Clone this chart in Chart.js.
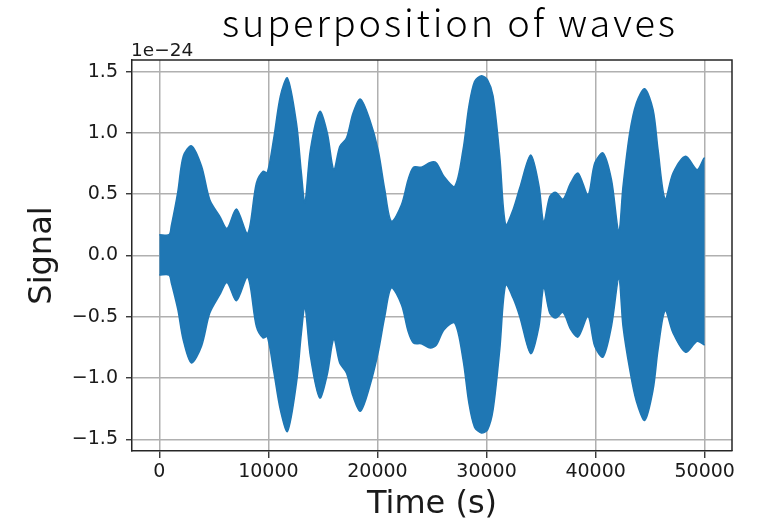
<!DOCTYPE html>
<html>
<head>
<meta charset="utf-8">
<script src="https://cdn.jsdelivr.net/npm/chart.js@4.4.1/dist/chart.umd.min.js"></script>
<style>
  html, body { margin: 0; padding: 0; background: #ffffff; }
  #wrap { width: 764px; height: 526px; position: relative; }
</style>
</head>
<body>
<div id="wrap"><canvas id="c" width="764" height="526"></canvas></div>
<script>
// ---- data (signal in units of 1e-24), envelope of the fast oscillation ----
const chartTitle = 'superposition of waves';
const xAxisTitle = 'Time (s)';
const yAxisTitle = 'Signal';
const offsetText = '1e\u221224';

const time  = [0, 900, 1100, 1700, 2200, 2950, 3870, 4630, 5545, 6215,
               7070, 8100, 8900, 9515, 9900, 10500, 11100, 11750, 12575, 13030,
               13350, 13850, 14710, 15400, 16000, 16545, 17160, 17765, 18440, 19295,
               20055, 20670, 21280, 22200, 22810, 23300, 24030, 24850, 25400, 26100,
               27085, 27845, 28380, 28900, 29530, 30100, 30600, 31210, 31750, 32430,
               33040, 34050, 34800, 35240, 35790, 36340, 37010, 37700, 38390, 39300,
               39920, 40680, 41450, 42120, 42510, 43125, 43735, 44500, 45265, 45720,
               46370, 47095, 48250, 49300, 49935, 50000];
const upper = [0.17, 0.17, 0.24, 0.52, 0.81, 0.895, 0.73, 0.455, 0.32, 0.22,
               0.38, 0.18, 0.59, 0.686, 0.675, 0.96, 1.30, 1.448, 1.08, 0.67,
               0.43, 0.86, 1.175, 1.0, 0.70, 0.89, 0.958, 1.162, 1.276, 1.108,
               0.863, 0.537, 0.278, 0.414, 0.618, 0.72, 0.72, 0.76, 0.755, 0.645,
               0.564, 0.863, 1.216, 1.42, 1.467, 1.43, 1.30, 0.81, 0.25, 0.374,
               0.55, 0.82, 0.57, 0.27, 0.48, 0.515, 0.46, 0.59, 0.673, 0.496,
               0.754, 0.836, 0.618, 0.197, 0.564, 1.0, 1.244, 1.36, 1.19, 0.863,
               0.46, 0.673, 0.81, 0.70, 0.795, 0.795];
const lower = [-0.16, -0.16, -0.22, -0.44, -0.69, -0.877, -0.74, -0.47, -0.32, -0.22,
               -0.37, -0.175, -0.578, -0.673, -0.66, -0.95, -1.26, -1.435, -1.04, -0.63,
               -0.415, -0.82, -1.162, -0.97, -0.68, -0.877, -0.958, -1.149, -1.27, -1.067,
               -0.795, -0.497, -0.265, -0.401, -0.619, -0.714, -0.72, -0.754, -0.73, -0.605,
               -0.551, -0.85, -1.203, -1.40, -1.448, -1.42, -1.258, -0.768, -0.238, -0.347,
               -0.497, -0.80, -0.58, -0.257, -0.469, -0.51, -0.464, -0.60, -0.665, -0.497,
               -0.741, -0.828, -0.578, -0.192, -0.578, -0.93, -1.19, -1.345, -1.095, -0.768,
               -0.448, -0.632, -0.79, -0.70, -0.728, -0.728];

const xTicks = [0, 10000, 20000, 30000, 40000, 50000];
const yTicks = [-1.5, -1.0, -0.5, 0.0, 0.5, 1.0, 1.5];

// ---- chart ----
const BLUE = '#1f77b4';
const GRID = '#b0b0b0';
const SPINE = '#262626';
const tickFont = { family: '"DejaVu Sans", sans-serif', size: 19 };
const labelFont = { family: '"DejaVu Sans", sans-serif', size: 32 };

const upperPts = time.map((t, i) => ({ x: t, y: upper[i] }));
const lowerPts = time.map((t, i) => ({ x: t, y: lower[i] }));

const decor = {
  id: 'decor',
  afterDraw(chart) {
    const { ctx, chartArea: a } = chart;
    ctx.save();
    // top & right spines
    ctx.strokeStyle = SPINE;
    ctx.lineWidth = 1.5;
    ctx.beginPath();
    ctx.moveTo(a.left, a.top);
    ctx.lineTo(a.right, a.top);
    ctx.lineTo(a.right, a.bottom);
    ctx.stroke();
    // offset text
    ctx.fillStyle = '#1a1a1a';
    ctx.font = '18.5px "DejaVu Sans", sans-serif';
    ctx.textAlign = 'left';
    ctx.textBaseline = 'alphabetic';
    ctx.fillText(offsetText, a.left - 1, a.top - 4);
    // title
    ctx.fillStyle = '#000000';
    ctx.font = '300 38px "Noto Sans CJK JP", "Noto Sans", sans-serif';
    const targetW = 453;
    const w0 = ctx.measureText(chartTitle).width;
    const n = chartTitle.length;
    const ls = Math.max(0, (targetW - w0) / (n - 1));
    if ('letterSpacing' in ctx) ctx.letterSpacing = ls.toFixed(2) + 'px';
    ctx.textAlign = 'left';
    const w1 = ctx.measureText(chartTitle).width;
    ctx.fillText(chartTitle, 448.5 - (w1 - ls) / 2, 37);
    ctx.restore();
  }
};

new Chart(document.getElementById('c'), {
  type: 'line',
  data: {
    datasets: [
      { label: 'upper', data: upperPts, borderColor: BLUE, backgroundColor: BLUE,
        borderWidth: 1.5, pointRadius: 0, tension: 0.3, fill: '+1' },
      { label: 'lower', data: lowerPts, borderColor: BLUE, backgroundColor: BLUE,
        borderWidth: 1.5, pointRadius: 0, tension: 0.3, fill: false }
    ]
  },
  options: {
    responsive: false,
    animation: false,
    events: [],
    layout: { padding: { top: 60, right: 32, left: 0, bottom: 0 } },
    plugins: {
      legend: { display: false },
      title: { display: false },
      tooltip: { enabled: false }
    },
    scales: {
      x: {
        type: 'linear',
        min: -2500, max: 52500,
        afterBuildTicks: s => { s.ticks = xTicks.map(v => ({ value: v })); },
        afterFit: s => { s.height = 75; },
        ticks: { font: tickFont, color: '#1a1a1a', padding: 3, maxRotation: 0, autoSkip: false,
                 callback: v => String(v) },
        grid: { color: GRID, lineWidth: 1.5, tickLength: 7, tickColor: SPINE, tickWidth: 1.3 },
        border: { display: true, color: SPINE, width: 1.5 },
        title: { display: true, text: xAxisTitle, font: labelFont, color: '#1a1a1a',
                 padding: { top: 0, bottom: 2 } }
      },
      y: {
        type: 'linear',
        min: -1.595, max: 1.595,
        afterBuildTicks: s => { s.ticks = yTicks.map(v => ({ value: v })); },
        afterFit: s => { s.width = 132; },
        ticks: { font: tickFont, color: '#1a1a1a', padding: 8, autoSkip: false,
                 callback: v => v.toFixed(1).replace('-', '\u2212') },
        grid: { color: GRID, lineWidth: 1.5, tickLength: 6, tickColor: SPINE, tickWidth: 1.3 },
        border: { display: true, color: SPINE, width: 1.5 },
        title: { display: true, text: yAxisTitle, font: labelFont, color: '#1a1a1a',
                 padding: { top: 23, bottom: 0 } }
      }
    }
  },
  plugins: [decor]
});
</script>
</body>
</html>
